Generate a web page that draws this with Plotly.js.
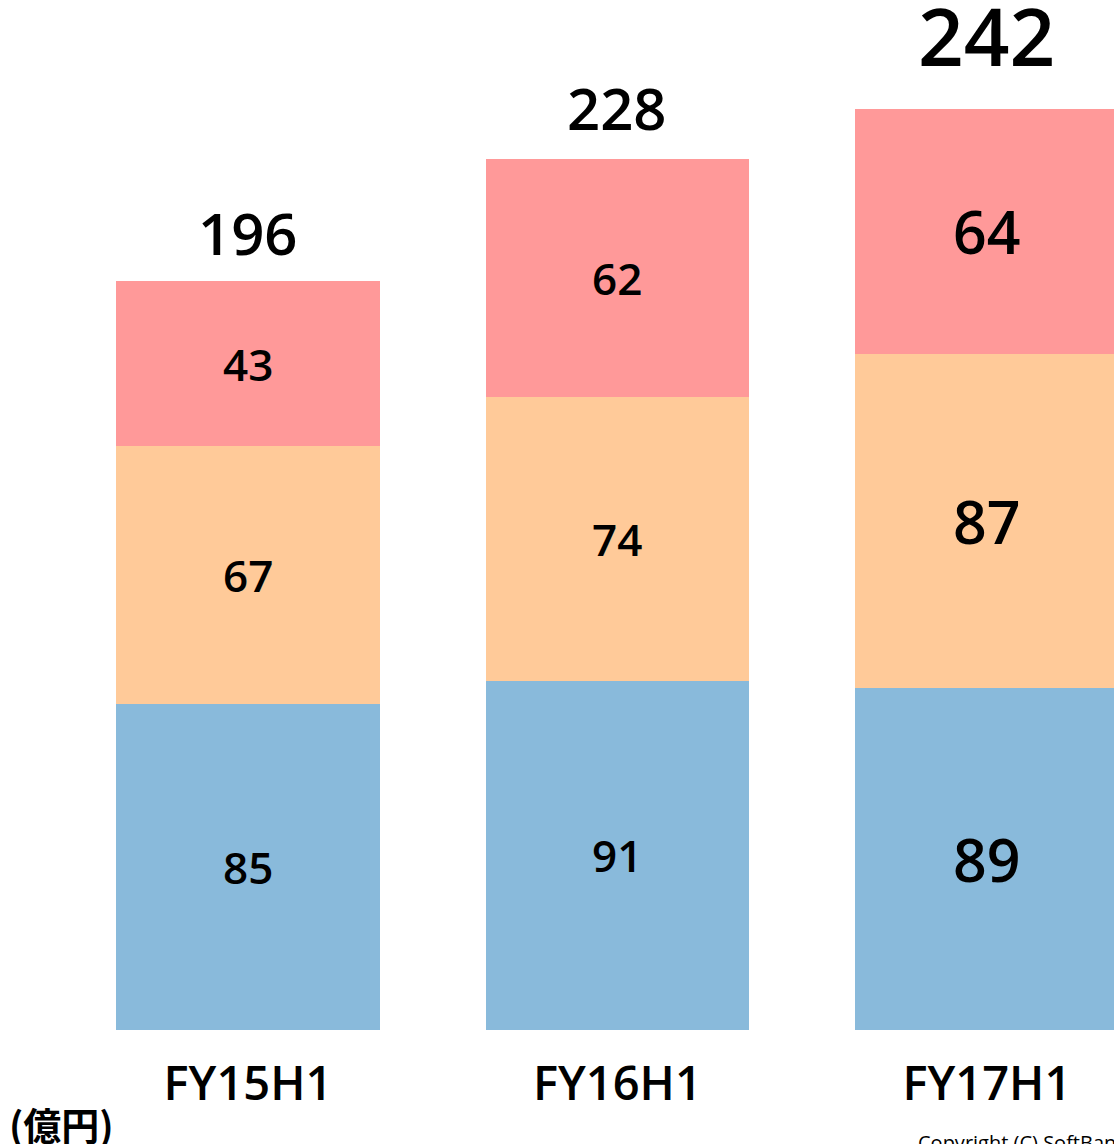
<!DOCTYPE html>
<html>
<head>
<meta charset="utf-8">
<script src="https://cdn.plot.ly/plotly-3.0.1.min.js"></script>
<style>
html, body { margin:0; padding:0; background:#fff; }
#chart { width:1114px; height:1144px; }
</style>
</head>
<body>
<div id="chart"></div>
<script>
var categories = ['FY15H1', 'FY16H1', 'FY17H1'];
var seg_bottom = [85, 91, 89];
var seg_middle = [67, 74, 87];
var seg_top = [43, 62, 64];
var totals = [196, 228, 242];

var colors = ['#89BADB', '#FFCA99', '#FF9999'];
var label_size = [44, 44, 59];
var total_size = [58, 58, 80];
var total_shift = [4, 6, 10];
var FONT = '"Open Sans", "Noto Sans", sans-serif';

var x_idx = categories.map(function(_, i){ return i; });
var series = [seg_bottom, seg_middle, seg_top];

var data = [];
for (var s in series) {
	data.push({
		x: x_idx,
		y: series[s],
		type: 'bar',
		width: 0.714,
		marker: { color: colors[s], line: { width: 0 } },
		hoverinfo: 'skip',
		showlegend: false
	});
}

var annotations = [];
for (var i in x_idx) {
	var base = 0;
	for (var s in series) {
		var v = series[s][i];
		annotations.push({
			x: x_idx[i], y: base + v / 2, xref: 'x', yref: 'y',
			text: String(v), showarrow: false,
			font: { family: FONT, size: label_size[i], color: '#000', weight: 600 }
		});
		base += v;
	}
	annotations.push({
		x: x_idx[i], y: totals[i], xref: 'x', yref: 'y',
		text: String(totals[i]), showarrow: false,
		yanchor: 'bottom', yshift: total_shift[i],
		font: { family: FONT, size: total_size[i], color: '#000', weight: 600 }
	});
}
annotations.push({
	x: 0.006, y: -0.062, xref: 'paper', yref: 'paper', xanchor: 'left', yanchor: 'top',
	text: '(億円)', showarrow: false,
	font: { family: '"Noto Sans CJK JP", sans-serif', size: 38, color: '#000', weight: 'bold' }
});
annotations.push({
	x: 0.822, y: -0.094, xref: 'paper', yref: 'paper', xanchor: 'left', yanchor: 'top',
	text: 'Copyright (C) SoftBank Technology Corp. All Rights Reserved.', showarrow: false,
	font: { family: FONT, size: 20, color: '#000' }
});

var layout = {
	width: 1114, height: 1144,
	margin: { l: 0, r: 0, t: 0, b: 114 },
	paper_bgcolor: '#fff', plot_bgcolor: '#fff',
	barmode: 'stack',
	showlegend: false,
	xaxis: {
		range: [-0.671, 2.344],
		tickvals: x_idx,
		ticktext: categories,
		showgrid: false, zeroline: false, showline: false, ticks: '',
		ticklabelstandoff: 22,
		tickfont: { family: FONT, size: 47, color: '#000', weight: 600 },
		fixedrange: true
	},
	yaxis: {
		range: [0, 268.3],
		visible: false,
		fixedrange: true
	},
	annotations: annotations
};

Plotly.newPlot('chart', data, layout, { displayModeBar: false, staticPlot: true });
</script>
</body>
</html>
